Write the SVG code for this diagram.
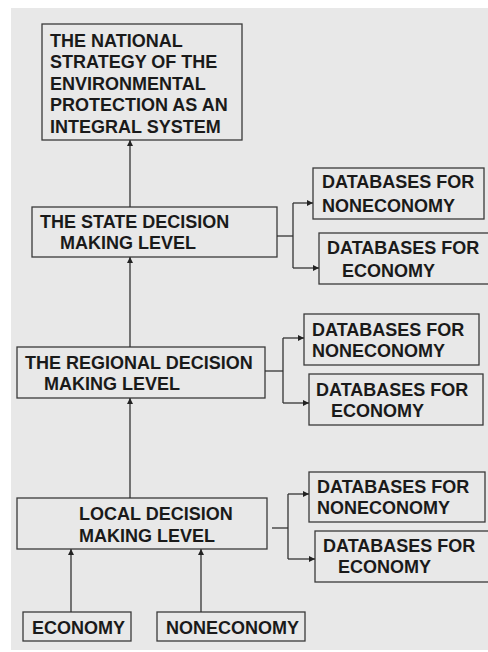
<svg xmlns="http://www.w3.org/2000/svg" width="488" height="652" viewBox="0 0 488 652">
<style>
.bx{fill:#e8e8e8;stroke:#3a3a3a;stroke-width:1.3}
.t{font-family:"Liberation Sans",Arial,sans-serif;font-weight:bold;font-size:18px;fill:#1a1a1a}
.ln{fill:none;stroke:#333;stroke-width:1.3}
</style>
<defs>
<marker id="ah" viewBox="0 0 10 10" refX="10" refY="5" markerWidth="6" markerHeight="6" markerUnits="userSpaceOnUse" orient="auto">
<path d="M0,0 L10,5 L0,10 z" fill="#222"/>
</marker>
</defs>
<rect x="0" y="0" width="488" height="652" fill="#fff"/>
<rect x="11" y="8" width="477" height="642" fill="#e8e8e8"/>

<g id="national">
<rect class="bx" x="42" y="24" width="200" height="116"/>
<text class="t" x="50" y="46.5">THE NATIONAL</text>
<text class="t" x="50" y="68">STRATEGY OF THE</text>
<text class="t" x="50" y="89.5">ENVIRONMENTAL</text>
<text class="t" x="50" y="111">PROTECTION AS AN</text>
<text class="t" x="50" y="132.5">INTEGRAL SYSTEM</text>
</g>

<g id="state">
<rect class="bx" x="32" y="207" width="245" height="50"/>
<text class="t" x="40" y="228">THE STATE DECISION</text>
<text class="t" x="60" y="249">MAKING LEVEL</text>
</g>
<g id="state-db-non">
<rect class="bx" x="313" y="168" width="171" height="51"/>
<text class="t" x="322" y="188">DATABASES FOR</text>
<text class="t" x="322" y="212">NONECONOMY</text>
</g>
<g id="state-db-eco">
<rect class="bx" x="319" y="233" width="172" height="51"/>
<text class="t" x="327" y="254">DATABASES FOR</text>
<text class="t" x="342" y="277">ECONOMY</text>
</g>

<g id="regional">
<rect class="bx" x="17" y="347" width="248" height="51"/>
<text class="t" x="25" y="369">THE REGIONAL DECISION</text>
<text class="t" x="44" y="390">MAKING LEVEL</text>
</g>
<g id="regional-db-non">
<rect class="bx" x="304" y="314" width="175" height="51"/>
<text class="t" x="312" y="336">DATABASES FOR</text>
<text class="t" x="312" y="357">NONECONOMY</text>
</g>
<g id="regional-db-eco">
<rect class="bx" x="309" y="374" width="174" height="51"/>
<text class="t" x="316" y="396">DATABASES FOR</text>
<text class="t" x="331" y="417">ECONOMY</text>
</g>

<g id="local">
<rect class="bx" x="17" y="498" width="250" height="51"/>
<text class="t" x="79" y="520">LOCAL DECISION</text>
<text class="t" x="79" y="542">MAKING LEVEL</text>
</g>
<g id="local-db-non">
<rect class="bx" x="309" y="472" width="176" height="50"/>
<text class="t" x="317" y="493">DATABASES FOR</text>
<text class="t" x="317" y="514">NONECONOMY</text>
</g>
<g id="local-db-eco">
<rect class="bx" x="315" y="531" width="176" height="51"/>
<text class="t" x="323" y="552">DATABASES FOR</text>
<text class="t" x="338" y="573">ECONOMY</text>
</g>

<g id="economy">
<rect class="bx" x="23" y="612" width="108" height="29"/>
<text class="t" x="32" y="634">ECONOMY</text>
</g>
<g id="noneconomy">
<rect class="bx" x="157" y="612" width="148" height="29"/>
<text class="t" x="166" y="634">NONECONOMY</text>
</g>

<g id="connectors">
<line class="ln" x1="130" y1="207" x2="130" y2="140" marker-end="url(#ah)"/>
<line class="ln" x1="130" y1="347" x2="130" y2="257" marker-end="url(#ah)"/>
<line class="ln" x1="130" y1="498" x2="130" y2="398" marker-end="url(#ah)"/>
<line class="ln" x1="71" y1="612" x2="71" y2="549" marker-end="url(#ah)"/>
<line class="ln" x1="201" y1="612" x2="201" y2="549" marker-end="url(#ah)"/>

<line class="ln" x1="277" y1="236" x2="293" y2="236"/>
<line class="ln" x1="293" y1="203" x2="293" y2="268"/>
<line class="ln" x1="293" y1="203" x2="313" y2="203" marker-end="url(#ah)"/>
<line class="ln" x1="293" y1="268" x2="319" y2="268" marker-end="url(#ah)"/>

<line class="ln" x1="265" y1="371" x2="283" y2="371"/>
<line class="ln" x1="283" y1="338" x2="283" y2="403"/>
<line class="ln" x1="283" y1="338" x2="304" y2="338" marker-end="url(#ah)"/>
<line class="ln" x1="283" y1="403" x2="309" y2="403" marker-end="url(#ah)"/>

<line class="ln" x1="272" y1="528" x2="288" y2="528"/>
<line class="ln" x1="288" y1="494" x2="288" y2="559"/>
<line class="ln" x1="288" y1="494" x2="309" y2="494" marker-end="url(#ah)"/>
<line class="ln" x1="288" y1="559" x2="315" y2="559" marker-end="url(#ah)"/>
</g>
</svg>
